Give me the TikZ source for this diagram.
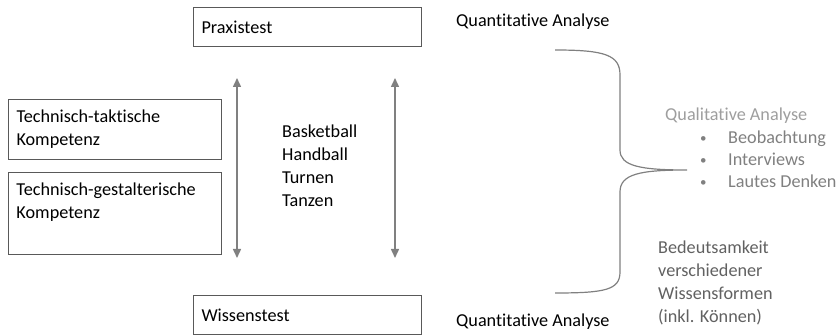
\documentclass[tikz,border=0pt]{standalone}
\usepackage{fontspec}
\setmainfont{Carlito}[Ligatures=NoCommon]
\usetikzlibrary{arrows.meta}
\definecolor{boxline}{gray}{0.35}
\definecolor{arrowgray}{gray}{0.5}
\definecolor{qualgray}{gray}{0.62}
\definecolor{itemgray}{gray}{0.5}
\definecolor{notegray}{gray}{0.38}
\tikzstyle{testbox} = [rectangle, draw=boxline, line width=1pt, anchor=north west, inner sep=8pt, text width=212pt, minimum height=39pt, align=left]
\tikzstyle{compbox} = [rectangle, draw=boxline, line width=1pt, anchor=north west, inner sep=8pt, align=left]
\tikzstyle{label} = [anchor=west, inner sep=0pt, align=left]
\tikzstyle{arrow} = [arrowgray, line width=1.5pt, {Triangle[width=8pt,length=9pt]}-{Triangle[width=8pt,length=9pt]}]
\tikzstyle{brace} = [draw=arrowgray, line width=1.2pt]
\newcommand{\itembullet}{\makebox[28pt][l]{\raisebox{1pt}{\fontsize{13}{13}\selectfont\textbullet}}}

\begin{document}
\begin{tikzpicture}[x=1pt, y=-1pt, font=\fontsize{18.2}{23}\selectfont]
        \useasboundingbox (0,0) rectangle (839,336);
        % tests
        \node (praxis) [testbox] at (193,7) {Praxistest};
        \node (wissen) [testbox] at (193,295) {Wissenstest};
        \node (quant1) [label] at (456,22) {Quantitative Analyse};
        \node (quant2) [label] at (456,322) {Quantitative Analyse};

        % competences
        \node (taktik) [compbox, text width=197pt, minimum height=60pt] at (8,99) {Technisch-taktische\\Kompetenz};
        \node (gestalt) [compbox, inner sep=0pt] at (8,172) {\parbox[c][82pt][t]{213pt}{\hspace*{8pt}\parbox[t]{197pt}{\vspace*{10pt}Technisch-gestalterische\\Kompetenz}}};

        % sports
        \node (sports) [label, anchor=north west] at (282,125) {Basketball\\Handball\\Turnen\\Tanzen};

        \coordinate (la1) at (237,78);
        \coordinate (la2) at (237,258);
        \coordinate (ra1) at (395,78);
        \coordinate (ra2) at (395,258);
        \draw [arrow] (la1) -- (la2);
        \draw [arrow] (ra1) -- (ra2);

        % brace
        \coordinate (bt) at (555,50);
        \coordinate (bm) at (687,170);
        \coordinate (bb) at (555,293);
        \draw [brace] (bt) .. controls (605,50) and (620,55) .. (620,75) -- (620,150)
              .. controls (620,166) and (640,170) .. (bm)
              .. controls (640,170) and (620,174) .. (620,192) -- (620,272)
              .. controls (620,290) and (605,293) .. (bb);

        % qualitative
        \node (qual) [label, text=qualgray] at (665,116) {Qualitative Analyse};
        \node (items) [label, anchor=north west, text=itemgray] at (700,131)
              {\itembullet Beobachtung\\[-1pt]\itembullet Interviews\\[-1pt]\itembullet Lautes Denken};

        \node (bedeut) [label, anchor=north west, text=notegray] at (658,241)
              {Bedeutsamkeit\\verschiedener\\Wissensformen\\(inkl. Können)};
      \end{tikzpicture}
\end{document}
